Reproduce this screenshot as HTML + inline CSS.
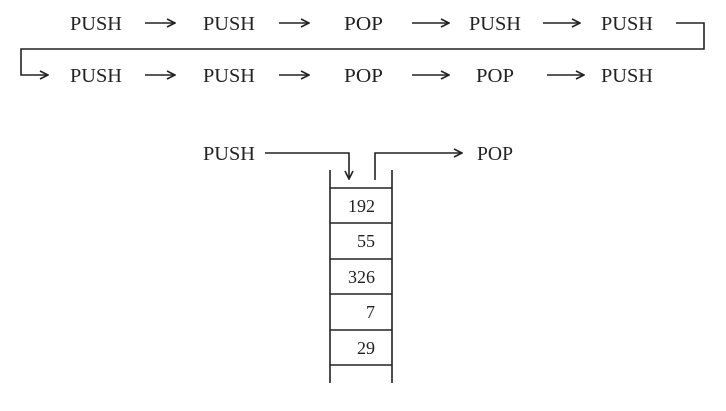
<!DOCTYPE html>
<html><head><style>
body{margin:0;background:#fff;width:726px;height:406px;overflow:hidden}
svg text{font-family:"Liberation Serif",serif;fill:#222}
</style></head><body>
<svg width="726" height="406" viewBox="0 0 726 406" xmlns="http://www.w3.org/2000/svg">
<defs><marker id="a" markerWidth="10" markerHeight="10" refX="9" refY="5" orient="auto" markerUnits="userSpaceOnUse"><path d="M1,1 L9,5 L1,9" fill="none" stroke="#222" stroke-width="1.6"/></marker></defs>
<g font-size="20" stroke="none">
<text x="70" y="30" textLength="52" lengthAdjust="spacingAndGlyphs">PUSH</text>
<text x="203" y="30" textLength="52" lengthAdjust="spacingAndGlyphs">PUSH</text>
<text x="344" y="30" textLength="39" lengthAdjust="spacingAndGlyphs">POP</text>
<text x="469" y="30" textLength="52" lengthAdjust="spacingAndGlyphs">PUSH</text>
<text x="601" y="30" textLength="52" lengthAdjust="spacingAndGlyphs">PUSH</text>
<text x="70" y="82" textLength="52" lengthAdjust="spacingAndGlyphs">PUSH</text>
<text x="203" y="82" textLength="52" lengthAdjust="spacingAndGlyphs">PUSH</text>
<text x="344" y="82" textLength="39" lengthAdjust="spacingAndGlyphs">POP</text>
<text x="476" y="82" textLength="38" lengthAdjust="spacingAndGlyphs">POP</text>
<text x="601" y="82" textLength="52" lengthAdjust="spacingAndGlyphs">PUSH</text>
<text x="203" y="160" textLength="52" lengthAdjust="spacingAndGlyphs">PUSH</text>
<text x="477" y="160" textLength="36" lengthAdjust="spacingAndGlyphs">POP</text>
</g>
<g stroke="#222" stroke-width="1.6" fill="none">
<line x1="145" y1="23" x2="175" y2="23" marker-end="url(#a)"/>
<line x1="279" y1="23" x2="309" y2="23" marker-end="url(#a)"/>
<line x1="412" y1="23" x2="449" y2="23" marker-end="url(#a)"/>
<line x1="543" y1="23" x2="580" y2="23" marker-end="url(#a)"/>
<line x1="145" y1="75" x2="175" y2="75" marker-end="url(#a)"/>
<line x1="279" y1="75" x2="309" y2="75" marker-end="url(#a)"/>
<line x1="412" y1="75" x2="449" y2="75" marker-end="url(#a)"/>
<line x1="547" y1="75" x2="584" y2="75" marker-end="url(#a)"/>
<path d="M676,23 H704 V49 H21 V75 H48" marker-end="url(#a)"/>
<path d="M265,153 H349 V179" marker-end="url(#a)"/>
<path d="M375,180 V153 H462" marker-end="url(#a)"/>
<line x1="330" y1="170" x2="330" y2="383"/>
<line x1="392" y1="170" x2="392" y2="383"/>
<line x1="330" y1="188" x2="392" y2="188"/>
<line x1="330" y1="223" x2="392" y2="223"/>
<line x1="330" y1="259" x2="392" y2="259"/>
<line x1="330" y1="294" x2="392" y2="294"/>
<line x1="330" y1="330" x2="392" y2="330"/>
<line x1="330" y1="365" x2="392" y2="365"/>
</g>
<g font-size="18" text-anchor="end">
<text x="375" y="212">192</text>
<text x="375" y="247">55</text>
<text x="375" y="283">326</text>
<text x="375" y="318">7</text>
<text x="375" y="354">29</text>
</g>
</svg>
</body></html>
